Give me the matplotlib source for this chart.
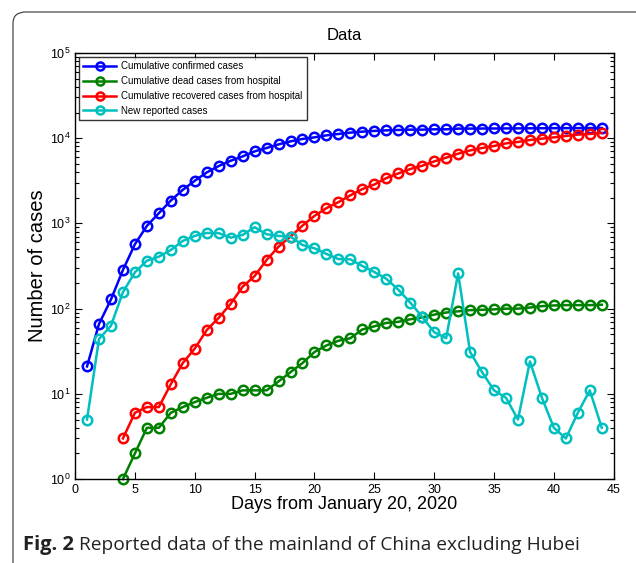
import matplotlib
matplotlib.use("Agg")
import matplotlib.pyplot as plt
from matplotlib.patches import FancyBboxPatch
from matplotlib.ticker import LogLocator, NullFormatter

plt.rcParams['font.family'] = ['Liberation Sans', 'DejaVu Sans']
plt.rcParams['mathtext.fontset'] = 'custom'
plt.rcParams['mathtext.rm'] = 'Liberation Sans'
plt.rcParams['mathtext.it'] = 'Liberation Sans:italic'

# Datos (días desde el 20 de enero de 2020)
days = list(range(1, 45))

confirmed = [21, 66, 128, 284, 569, 935, 1318, 1854, 2478, 3162, 3960, 4710, 5435,
             6110, 6995, 7670, 8450, 9170, 9790, 10220, 10790, 11200, 11610, 11920,
             12160, 12350, 12480, 12590, 12590, 12700, 12700, 12940, 12950, 12970,
             12990, 13010, 13030, 13050, 13070, 13090, 13110, 13130, 13140, 13150]

dead_days = list(range(4, 45))
dead = [1, 2, 4, 4, 6, 7, 8, 9, 10, 10, 11, 11, 11, 14, 18, 23, 31, 37, 42, 45,
        57, 62, 68, 70, 75, 79, 85, 90, 93, 96, 97, 98, 100, 100, 103, 107, 109,
        110, 110, 110, 111]

recovered_days = list(range(4, 45))
recovered = [3, 6, 7, 7, 13, 23, 34, 56, 78, 114, 181, 241, 372, 533, 700, 942,
             1225, 1510, 1775, 2135, 2525, 2860, 3400, 3855, 4345, 4745, 5335, 5900,
             6575, 7180, 7670, 8090, 8690, 9020, 9520, 9865, 10220, 10610, 11000,
             11200, 11510]

new_cases = [5, 44, 63, 156, 267, 365, 407, 488, 623, 713, 773, 769, 680, 732, 902,
             746, 713, 700, 558, 511, 438, 382, 379, 316, 269, 224, 167, 118, 80, 53,
             45, 259, 31, 18, 11, 9, 5, 24, 9, 4, 3, 6, 11, 4]

labels = ['Cumulative confirmed cases',
          'Cumulative dead cases from hospital',
          'Cumulative recovered cases from hospital',
          'New reported cases']
colors = ['#0000ff', '#008000', '#ff0000', '#00bfbf']

fig = plt.figure(figsize=(6.36, 5.63), dpi=100)
ax = fig.add_axes([0.118, 0.149, 0.847, 0.757])

series = [(days, confirmed), (dead_days, dead), (recovered_days, recovered), (days, new_cases)]
for (x, y), lab, c in zip(series, labels, colors):
    ax.plot(x, y, '-o', color=c, lw=1.8, ms=6.8, mfc='none', mew=1.8, label=lab, clip_on=False)

ax.set_yscale('log')
ax.set_xlim(0, 45)
ax.set_ylim(1, 1e5)
ax.set_xticks(range(0, 46, 5))
ax.yaxis.set_major_locator(LogLocator(base=10, numticks=10))
ax.yaxis.set_minor_locator(LogLocator(base=10, subs=range(2, 10), numticks=10))
ax.yaxis.set_minor_formatter(NullFormatter())
ax.tick_params(which='both', direction='in', top=True, right=True, labelsize=9, width=0.8)
ax.tick_params(which='major', length=5)
ax.tick_params(which='minor', length=3)
for s in ax.spines.values():
    s.set_linewidth(1.0)

ax.set_title('Data', fontsize=12, pad=9)
ax.set_xlabel('Days from January 20, 2020', fontsize=13, labelpad=0)
ax.set_ylabel('Number of cases', fontsize=14.5, labelpad=2)

leg = ax.legend(loc='upper left', fontsize=7, frameon=True, fancybox=False,
                edgecolor='black', borderpad=0.45, handlelength=3.4, labelspacing=0.5,
                borderaxespad=0.4, handletextpad=0.5, markerscale=0.85)
leg.get_frame().set_linewidth(1.0)

# Marco de la figura y pie
frame = FancyBboxPatch((13 / 636, -0.2), 1.2, 1.2 - 12 / 563,
                       boxstyle='round,pad=0,rounding_size=0.02',
                       transform=fig.transFigure, fill=False, ec='#333333', lw=0.8)
fig.add_artist(frame)
cap_y = 1 - 545 / 563
t1 = fig.text(23 / 636, cap_y, 'Fig. 2', fontsize=14.5, va='center',
              family=['Open Sans', 'DejaVu Sans'], weight='bold', color='#222222')
fig.canvas.draw()
x_end = t1.get_window_extent().x1
fig.text((x_end + 5) / 636, cap_y, 'Reported data of the mainland of China excluding Hubei',
         fontsize=13.8, va='center', family=['Open Sans', 'DejaVu Sans'], color='#222222')

fig.savefig('out.png', dpi=100)
